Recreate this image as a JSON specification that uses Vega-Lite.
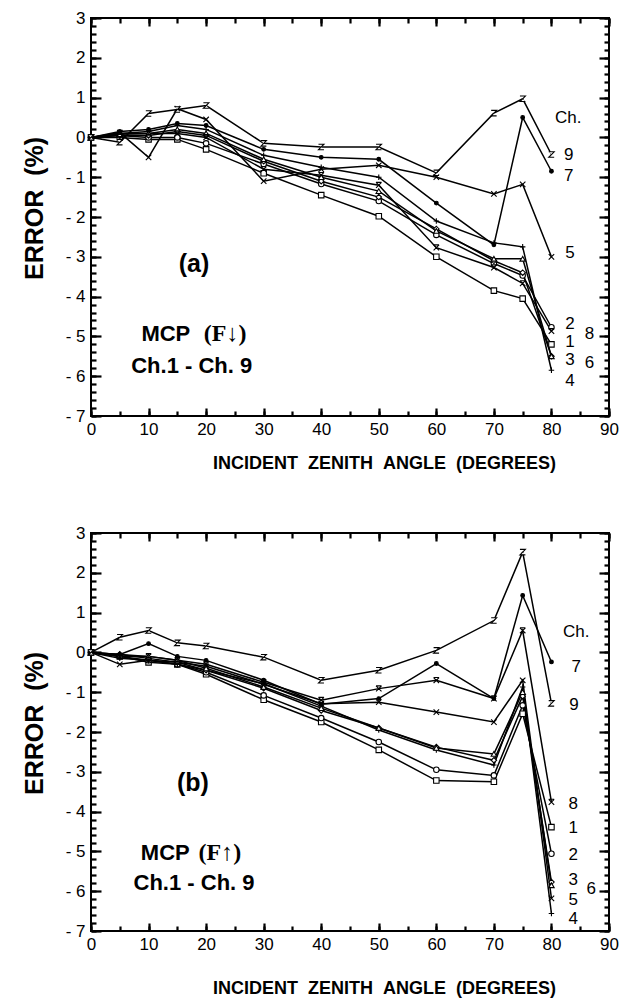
{
"$schema": "https://vega.github.io/schema/vega-lite/v6.json",
"padding": {"left": 21, "top": 8, "right": 5, "bottom": 2},
"spacing": 117,
"bounds": "flush",
"background": "white",
"config": {
 "view": {"stroke": "black", "strokeWidth": 2},
 "font": "Liberation Sans",
 "axis": {"domain": false, "grid": false, "ticks": true, "tickColor": "black", "tickWidth": 2.2, "tickOpacity": 1, "labelColor": "black", "titleColor": "black", "labelFont": "Liberation Sans", "labelFontSize": 17, "titleFont": "Liberation Sans", "titleFontWeight": "bold", "labelFlush": false, "labelOverlap": false, "labelBound": false, "zindex": 1}
},
"datasets": {
 "a": [
  {"ch":"1","x":0,"y":0},{"ch":"1","x":5,"y":0},{"ch":"1","x":10,"y":-0.05},{"ch":"1","x":15,"y":-0.05},{"ch":"1","x":20,"y":-0.3},{"ch":"1","x":30,"y":-0.9},{"ch":"1","x":40,"y":-1.45},{"ch":"1","x":50,"y":-1.98},{"ch":"1","x":60,"y":-3},{"ch":"1","x":70,"y":-3.85},{"ch":"1","x":75,"y":-4.05},{"ch":"1","x":80,"y":-5.2},
  {"ch":"2","x":0,"y":0},{"ch":"2","x":5,"y":0.05},{"ch":"2","x":10,"y":0},{"ch":"2","x":15,"y":0},{"ch":"2","x":20,"y":-0.15},{"ch":"2","x":30,"y":-0.67},{"ch":"2","x":40,"y":-1.17},{"ch":"2","x":50,"y":-1.6},{"ch":"2","x":60,"y":-2.45},{"ch":"2","x":70,"y":-3.17},{"ch":"2","x":75,"y":-3.47},{"ch":"2","x":80,"y":-4.77},
  {"ch":"3","x":0,"y":0},{"ch":"3","x":5,"y":0.05},{"ch":"3","x":10,"y":0.05},{"ch":"3","x":15,"y":0.15},{"ch":"3","x":20,"y":0.05},{"ch":"3","x":30,"y":-0.6},{"ch":"3","x":40,"y":-1.1},{"ch":"3","x":50,"y":-1.5},{"ch":"3","x":60,"y":-2.3},{"ch":"3","x":70,"y":-3.1},{"ch":"3","x":75,"y":-3.4},{"ch":"3","x":80,"y":-5.5},
  {"ch":"4","x":0,"y":0},{"ch":"4","x":5,"y":0.1},{"ch":"4","x":10,"y":0.15},{"ch":"4","x":15,"y":0.3},{"ch":"4","x":20,"y":0.2},{"ch":"4","x":30,"y":-0.45},{"ch":"4","x":40,"y":-0.75},{"ch":"4","x":50,"y":-1},{"ch":"4","x":60,"y":-2.1},{"ch":"4","x":70,"y":-2.65},{"ch":"4","x":75,"y":-2.75},{"ch":"4","x":80,"y":-5.85},
  {"ch":"5","x":0,"y":0},{"ch":"5","x":5,"y":0.12},{"ch":"5","x":10,"y":-0.5},{"ch":"5","x":15,"y":0.72},{"ch":"5","x":20,"y":0.45},{"ch":"5","x":30,"y":-1.1},{"ch":"5","x":40,"y":-0.8},{"ch":"5","x":50,"y":-0.7},{"ch":"5","x":60,"y":-1},{"ch":"5","x":70,"y":-1.42},{"ch":"5","x":75,"y":-1.18},{"ch":"5","x":80,"y":-3},
  {"ch":"6","x":0,"y":0},{"ch":"6","x":5,"y":0.08},{"ch":"6","x":10,"y":0.1},{"ch":"6","x":15,"y":0.2},{"ch":"6","x":20,"y":0.1},{"ch":"6","x":30,"y":-0.55},{"ch":"6","x":40,"y":-1},{"ch":"6","x":50,"y":-1.35},{"ch":"6","x":60,"y":-2.35},{"ch":"6","x":70,"y":-3.05},{"ch":"6","x":75,"y":-3.05},{"ch":"6","x":80,"y":-5.5},
  {"ch":"7","x":0,"y":0},{"ch":"7","x":5,"y":0.15},{"ch":"7","x":10,"y":0.2},{"ch":"7","x":15,"y":0.35},{"ch":"7","x":20,"y":0.3},{"ch":"7","x":30,"y":-0.3},{"ch":"7","x":40,"y":-0.5},{"ch":"7","x":50,"y":-0.55},{"ch":"7","x":60,"y":-1.65},{"ch":"7","x":70,"y":-2.7},{"ch":"7","x":75,"y":0.5},{"ch":"7","x":80,"y":-0.85},
  {"ch":"8","x":0,"y":0},{"ch":"8","x":5,"y":0.1},{"ch":"8","x":10,"y":0.1},{"ch":"8","x":15,"y":0.1},{"ch":"8","x":20,"y":0},{"ch":"8","x":30,"y":-0.8},{"ch":"8","x":40,"y":-0.95},{"ch":"8","x":50,"y":-1.2},{"ch":"8","x":60,"y":-2.77},{"ch":"8","x":70,"y":-3.27},{"ch":"8","x":75,"y":-3.67},{"ch":"8","x":80,"y":-4.87},
  {"ch":"9","x":0,"y":0},{"ch":"9","x":5,"y":-0.12},{"ch":"9","x":10,"y":0.6},{"ch":"9","x":15,"y":0.7},{"ch":"9","x":20,"y":0.8},{"ch":"9","x":30,"y":-0.15},{"ch":"9","x":40,"y":-0.24},{"ch":"9","x":50,"y":-0.24},{"ch":"9","x":60,"y":-0.89},{"ch":"9","x":70,"y":0.61},{"ch":"9","x":75,"y":0.97},{"ch":"9","x":80,"y":-0.43}
 ],
 "b": [
  {"ch":"1","x":0,"y":0},{"ch":"1","x":5,"y":-0.1},{"ch":"1","x":10,"y":-0.25},{"ch":"1","x":15,"y":-0.3},{"ch":"1","x":20,"y":-0.55},{"ch":"1","x":30,"y":-1.19},{"ch":"1","x":40,"y":-1.75},{"ch":"1","x":50,"y":-2.45},{"ch":"1","x":60,"y":-3.22},{"ch":"1","x":70,"y":-3.25},{"ch":"1","x":75,"y":-1.54},{"ch":"1","x":80,"y":-4.39},
  {"ch":"2","x":0,"y":0},{"ch":"2","x":5,"y":-0.1},{"ch":"2","x":10,"y":-0.2},{"ch":"2","x":15,"y":-0.3},{"ch":"2","x":20,"y":-0.5},{"ch":"2","x":30,"y":-1.08},{"ch":"2","x":40,"y":-1.65},{"ch":"2","x":50,"y":-2.25},{"ch":"2","x":60,"y":-2.95},{"ch":"2","x":70,"y":-3.09},{"ch":"2","x":75,"y":-1.33},{"ch":"2","x":80,"y":-5.06},
  {"ch":"3","x":0,"y":0},{"ch":"3","x":5,"y":-0.05},{"ch":"3","x":10,"y":-0.15},{"ch":"3","x":15,"y":-0.25},{"ch":"3","x":20,"y":-0.45},{"ch":"3","x":30,"y":-0.9},{"ch":"3","x":40,"y":-1.46},{"ch":"3","x":50,"y":-1.9},{"ch":"3","x":60,"y":-2.38},{"ch":"3","x":70,"y":-2.71},{"ch":"3","x":75,"y":-1.1},{"ch":"3","x":80,"y":-5.77},
  {"ch":"4","x":0,"y":0},{"ch":"4","x":5,"y":-0.15},{"ch":"4","x":10,"y":-0.2},{"ch":"4","x":15,"y":-0.3},{"ch":"4","x":20,"y":-0.45},{"ch":"4","x":30,"y":-0.79},{"ch":"4","x":40,"y":-1.35},{"ch":"4","x":50,"y":-1.95},{"ch":"4","x":60,"y":-2.45},{"ch":"4","x":70,"y":-2.83},{"ch":"4","x":75,"y":-0.87},{"ch":"4","x":80,"y":-6.56},
  {"ch":"5","x":0,"y":0},{"ch":"5","x":5,"y":-0.3},{"ch":"5","x":10,"y":-0.2},{"ch":"5","x":15,"y":-0.25},{"ch":"5","x":20,"y":-0.35},{"ch":"5","x":30,"y":-0.8},{"ch":"5","x":40,"y":-1.29},{"ch":"5","x":50,"y":-1.25},{"ch":"5","x":60,"y":-1.5},{"ch":"5","x":70,"y":-1.75},{"ch":"5","x":75,"y":-0.7},{"ch":"5","x":80,"y":-6.18},
  {"ch":"6","x":0,"y":0},{"ch":"6","x":5,"y":-0.05},{"ch":"6","x":10,"y":-0.1},{"ch":"6","x":15,"y":-0.2},{"ch":"6","x":20,"y":-0.4},{"ch":"6","x":30,"y":-0.87},{"ch":"6","x":40,"y":-1.4},{"ch":"6","x":50,"y":-1.9},{"ch":"6","x":60,"y":-2.4},{"ch":"6","x":70,"y":-2.55},{"ch":"6","x":75,"y":-1},{"ch":"6","x":80,"y":-5.85},
  {"ch":"7","x":0,"y":0},{"ch":"7","x":5,"y":-0.05},{"ch":"7","x":10,"y":0.22},{"ch":"7","x":15,"y":-0.1},{"ch":"7","x":20,"y":-0.2},{"ch":"7","x":30,"y":-0.7},{"ch":"7","x":40,"y":-1.3},{"ch":"7","x":50,"y":-1.16},{"ch":"7","x":60,"y":-0.28},{"ch":"7","x":70,"y":-1.16},{"ch":"7","x":75,"y":1.43},{"ch":"7","x":80,"y":-0.24},
  {"ch":"8","x":0,"y":0},{"ch":"8","x":5,"y":-0.1},{"ch":"8","x":10,"y":-0.1},{"ch":"8","x":15,"y":-0.2},{"ch":"8","x":20,"y":-0.3},{"ch":"8","x":30,"y":-0.75},{"ch":"8","x":40,"y":-1.2},{"ch":"8","x":50,"y":-0.91},{"ch":"8","x":60,"y":-0.7},{"ch":"8","x":70,"y":-1.16},{"ch":"8","x":75,"y":0.55},{"ch":"8","x":80,"y":-3.76},
  {"ch":"9","x":0,"y":0},{"ch":"9","x":5,"y":0.38},{"ch":"9","x":10,"y":0.55},{"ch":"9","x":15,"y":0.24},{"ch":"9","x":20,"y":0.16},{"ch":"9","x":30,"y":-0.12},{"ch":"9","x":40,"y":-0.7},{"ch":"9","x":50,"y":-0.45},{"ch":"9","x":60,"y":0.05},{"ch":"9","x":70,"y":0.8},{"ch":"9","x":75,"y":2.52},{"ch":"9","x":80,"y":-1.28}
 ],
 "la": [
  {"x":82.9,"y":0.48,"t":"Ch."},{"x":83,"y":-0.43,"t":"9"},{"x":83,"y":-0.98,"t":"7"},{"x":83.2,"y":-2.91,"t":"5"},{"x":83.2,"y":-4.7,"t":"2"},{"x":86.6,"y":-4.95,"t":"8"},{"x":83.2,"y":-5.14,"t":"1"},{"x":83.2,"y":-5.6,"t":"3"},{"x":86.6,"y":-5.67,"t":"6"},{"x":83.2,"y":-6.13,"t":"4"}
 ],
 "lb": [
  {"x":84.3,"y":0.51,"t":"Ch."},{"x":84.3,"y":-0.37,"t":"7"},{"x":83.9,"y":-1.31,"t":"9"},{"x":83.8,"y":-3.82,"t":"8"},{"x":83.8,"y":-4.41,"t":"1"},{"x":83.8,"y":-5.08,"t":"2"},{"x":83.8,"y":-5.73,"t":"3"},{"x":86.9,"y":-5.94,"t":"6"},{"x":83.8,"y":-6.23,"t":"5"},{"x":83.8,"y":-6.69,"t":"4"}
 ],
 "pa": [{"x":17.9,"y":-3.19,"t":"(a)"}],
 "ma": [{"x":13,"y":-4.95,"t":"MCP"},{"x":17.5,"y":-5.75,"t":"Ch.1 - Ch. 9"}],
 "sa": [{"x":23.3,"y":-4.95,"t":"(F↓)"}],
 "pb": [{"x":17.7,"y":-3.29,"t":"(b)"}],
 "mb": [{"x":12.9,"y":-5.03,"t":"MCP"},{"x":17.9,"y":-5.8,"t":"Ch.1 - Ch. 9"}],
 "sb": [{"x":22.4,"y":-5.03,"t":"(F↑)"}]
},
"vconcat": [
 {
  "width": 518, "height": 398,
  "layer": [
   {"mark": {"type": "rule", "stroke": "black", "strokeWidth": 1.4},
    "encoding": {"y": {"datum": 0, "type": "quantitative", "scale": {"domain": [-7, 3], "nice": false, "zero": false}, "axis": null}}},
   {"data": {"name": "a"}, "mark": {"type": "line", "stroke": "black", "strokeWidth": 1.5},
    "encoding": {
     "x": {"field": "x", "type": "quantitative", "scale": {"domain": [0, 90], "nice": false, "zero": false},
      "axis": {"orient": "bottom", "offset": -8, "values": [0,10,20,30,40,50,60,70,80,90], "tickSize": 8, "labelPadding": 5, "title": "INCIDENT\u00a0\u00a0ZENITH\u00a0\u00a0ANGLE\u00a0\u00a0(DEGREES)", "titleFontSize": 18, "titleX": 293, "titleY": 55, "titleBaseline": "middle"}},
     "y": {"field": "y", "type": "quantitative",
      "axis": {"orient": "left", "offset": -10, "values": [-7,-6,-5,-4,-3,-2,-1,0,1,2,3], "tickSize": 10, "labelPadding": 6, "labelExpr": "datum.value < 0 ? '- ' + abs(datum.value) : datum.label", "title": "ERROR\u00a0\u00a0(%)", "titleFontSize": 25, "titleX": -67, "titleY": 190, "titleBaseline": "middle"}},
     "detail": {"field": "ch", "type": "nominal"}}},
   {"data": {"name": "a"}, "mark": {"type": "point", "stroke": "black", "strokeWidth": 1.1, "opacity": 1},
    "encoding": {
     "x": {"field": "x", "type": "quantitative", "axis": {"orient": "top", "offset": -8, "values": [0,10,20,30,40,50,60,70,80,90], "tickSize": 8, "labels": false, "title": null}},
     "y": {"field": "y", "type": "quantitative", "axis": {"orient": "right", "offset": -10, "values": [-7,-6,-5,-4,-3,-2,-1,0,1,2,3], "tickSize": 10, "labels": false, "title": null}},
     "shape": {"field": "ch", "type": "nominal", "legend": null, "scale": {"domain": ["1","2","3","4","5","6","7","8","9"], "range": ["square", "circle", "diamond", "M-1,0L1,0M0,-1L0,1", "M-1,-1L1,1M-1,1L1,-1", "triangle-up", "circle", "M-1,-1L1,1M-1,1L1,-1M-1,-1L1,-1", "M-1,-1L1,-1L-1,1L1,1"]}},
     "fill": {"condition": {"test": "datum.ch == '7'", "value": "black"}, "value": "white"},
     "size": {"condition": {"test": "datum.ch == '7'", "value": 14}, "value": 30}}},
   {"data": {"name": "la"}, "mark": {"type": "text", "font": "Liberation Sans", "fontSize": 17, "align": "center", "baseline": "middle", "color": "black"},
    "encoding": {
     "x": {"field": "x", "type": "quantitative", "axis": {"orient": "bottom", "offset": -5, "values": [0,5,10,15,20,25,30,35,40,45,50,55,60,65,70,75,80,85,90], "tickSize": 5, "labels": false, "title": null}},
     "y": {"field": "y", "type": "quantitative", "axis": {"orient": "left", "offset": -5, "values": [-7,-6.8,-6.6,-6.4,-6.2,-6,-5.8,-5.6,-5.4,-5.2,-5,-4.8,-4.6,-4.4,-4.2,-4,-3.8,-3.6,-3.4,-3.2,-3,-2.8,-2.6,-2.4,-2.2,-2,-1.8,-1.6,-1.4,-1.2,-1,-0.8,-0.6,-0.4,-0.2,0,0.2,0.4,0.6,0.8,1,1.2,1.4,1.6,1.8,2,2.2,2.4,2.6,2.8,3], "tickSize": 5, "labels": false, "title": null}},
     "text": {"field": "t"}}},
   {"data": {"name": "ma"}, "mark": {"type": "text", "font": "Liberation Sans", "fontWeight": "bold", "fontSize": 22, "align": "center", "baseline": "middle", "color": "black"},
    "encoding": {
     "x": {"field": "x", "type": "quantitative", "axis": {"orient": "top", "offset": -5, "values": [0,5,10,15,20,25,30,35,40,45,50,55,60,65,70,75,80,85,90], "tickSize": 5, "labels": false, "title": null}},
     "y": {"field": "y", "type": "quantitative", "axis": {"orient": "right", "offset": -5, "values": [-7,-6.8,-6.6,-6.4,-6.2,-6,-5.8,-5.6,-5.4,-5.2,-5,-4.8,-4.6,-4.4,-4.2,-4,-3.8,-3.6,-3.4,-3.2,-3,-2.8,-2.6,-2.4,-2.2,-2,-1.8,-1.6,-1.4,-1.2,-1,-0.8,-0.6,-0.4,-0.2,0,0.2,0.4,0.6,0.8,1,1.2,1.4,1.6,1.8,2,2.2,2.4,2.6,2.8,3], "tickSize": 5, "labels": false, "title": null}},
     "text": {"field": "t"}}},
   {"data": {"name": "pa"}, "mark": {"type": "text", "font": "Liberation Sans", "fontWeight": "bold", "fontSize": 25, "align": "center", "baseline": "middle", "color": "black"},
    "encoding": {
     "x": {"field": "x", "type": "quantitative", "axis": null},
     "y": {"field": "y", "type": "quantitative", "axis": null},
     "text": {"field": "t"}}},
   {"data": {"name": "sa"}, "mark": {"type": "text", "font": "Liberation Serif", "fontWeight": "bold", "fontSize": 24, "align": "center", "baseline": "middle", "color": "black"},
    "encoding": {
     "x": {"field": "x", "type": "quantitative", "axis": null},
     "y": {"field": "y", "type": "quantitative", "axis": null},
     "text": {"field": "t"}}}
  ],
  "resolve": {"axis": {"x": "independent", "y": "independent"}}
 },
 {
  "width": 518, "height": 398,
  "layer": [
   {"mark": {"type": "rule", "stroke": "black", "strokeWidth": 1.4},
    "encoding": {"y": {"datum": 0, "type": "quantitative", "scale": {"domain": [-7, 3], "nice": false, "zero": false}, "axis": null}}},
   {"data": {"name": "b"}, "mark": {"type": "line", "stroke": "black", "strokeWidth": 1.5},
    "encoding": {
     "x": {"field": "x", "type": "quantitative", "scale": {"domain": [0, 90], "nice": false, "zero": false},
      "axis": {"orient": "bottom", "offset": -8, "values": [0,10,20,30,40,50,60,70,80,90], "tickSize": 8, "labelPadding": 5, "title": "INCIDENT\u00a0\u00a0ZENITH\u00a0\u00a0ANGLE\u00a0\u00a0(DEGREES)", "titleFontSize": 18, "titleX": 293, "titleY": 65, "titleBaseline": "middle"}},
     "y": {"field": "y", "type": "quantitative",
      "axis": {"orient": "left", "offset": -10, "values": [-7,-6,-5,-4,-3,-2,-1,0,1,2,3], "tickSize": 10, "labelPadding": 6, "labelExpr": "datum.value < 0 ? '- ' + abs(datum.value) : datum.label", "title": "ERROR\u00a0\u00a0(%)", "titleFontSize": 25, "titleX": -67, "titleY": 190, "titleBaseline": "middle"}},
     "detail": {"field": "ch", "type": "nominal"}}},
   {"data": {"name": "b"}, "mark": {"type": "point", "stroke": "black", "strokeWidth": 1.1, "opacity": 1},
    "encoding": {
     "x": {"field": "x", "type": "quantitative", "axis": {"orient": "top", "offset": -8, "values": [0,10,20,30,40,50,60,70,80,90], "tickSize": 8, "labels": false, "title": null}},
     "y": {"field": "y", "type": "quantitative", "axis": {"orient": "right", "offset": -10, "values": [-7,-6,-5,-4,-3,-2,-1,0,1,2,3], "tickSize": 10, "labels": false, "title": null}},
     "shape": {"field": "ch", "type": "nominal", "legend": null, "scale": {"domain": ["1","2","3","4","5","6","7","8","9"], "range": ["square", "circle", "diamond", "M-1,0L1,0M0,-1L0,1", "M-1,-1L1,1M-1,1L1,-1", "triangle-up", "circle", "M-1,-1L1,1M-1,1L1,-1M-1,-1L1,-1", "M-1,-1L1,-1L-1,1L1,1"]}},
     "fill": {"condition": {"test": "datum.ch == '7'", "value": "black"}, "value": "white"},
     "size": {"condition": {"test": "datum.ch == '7'", "value": 14}, "value": 30}}},
   {"data": {"name": "lb"}, "mark": {"type": "text", "font": "Liberation Sans", "fontSize": 17, "align": "center", "baseline": "middle", "color": "black"},
    "encoding": {
     "x": {"field": "x", "type": "quantitative", "axis": {"orient": "bottom", "offset": -5, "values": [0,5,10,15,20,25,30,35,40,45,50,55,60,65,70,75,80,85,90], "tickSize": 5, "labels": false, "title": null}},
     "y": {"field": "y", "type": "quantitative", "axis": {"orient": "left", "offset": -5, "values": [-7,-6.8,-6.6,-6.4,-6.2,-6,-5.8,-5.6,-5.4,-5.2,-5,-4.8,-4.6,-4.4,-4.2,-4,-3.8,-3.6,-3.4,-3.2,-3,-2.8,-2.6,-2.4,-2.2,-2,-1.8,-1.6,-1.4,-1.2,-1,-0.8,-0.6,-0.4,-0.2,0,0.2,0.4,0.6,0.8,1,1.2,1.4,1.6,1.8,2,2.2,2.4,2.6,2.8,3], "tickSize": 5, "labels": false, "title": null}},
     "text": {"field": "t"}}},
   {"data": {"name": "mb"}, "mark": {"type": "text", "font": "Liberation Sans", "fontWeight": "bold", "fontSize": 22, "align": "center", "baseline": "middle", "color": "black"},
    "encoding": {
     "x": {"field": "x", "type": "quantitative", "axis": {"orient": "top", "offset": -5, "values": [0,5,10,15,20,25,30,35,40,45,50,55,60,65,70,75,80,85,90], "tickSize": 5, "labels": false, "title": null}},
     "y": {"field": "y", "type": "quantitative", "axis": {"orient": "right", "offset": -5, "values": [-7,-6.8,-6.6,-6.4,-6.2,-6,-5.8,-5.6,-5.4,-5.2,-5,-4.8,-4.6,-4.4,-4.2,-4,-3.8,-3.6,-3.4,-3.2,-3,-2.8,-2.6,-2.4,-2.2,-2,-1.8,-1.6,-1.4,-1.2,-1,-0.8,-0.6,-0.4,-0.2,0,0.2,0.4,0.6,0.8,1,1.2,1.4,1.6,1.8,2,2.2,2.4,2.6,2.8,3], "tickSize": 5, "labels": false, "title": null}},
     "text": {"field": "t"}}},
   {"data": {"name": "pb"}, "mark": {"type": "text", "font": "Liberation Sans", "fontWeight": "bold", "fontSize": 25, "align": "center", "baseline": "middle", "color": "black"},
    "encoding": {
     "x": {"field": "x", "type": "quantitative", "axis": null},
     "y": {"field": "y", "type": "quantitative", "axis": null},
     "text": {"field": "t"}}},
   {"data": {"name": "sb"}, "mark": {"type": "text", "font": "Liberation Serif", "fontWeight": "bold", "fontSize": 24, "align": "center", "baseline": "middle", "color": "black"},
    "encoding": {
     "x": {"field": "x", "type": "quantitative", "axis": null},
     "y": {"field": "y", "type": "quantitative", "axis": null},
     "text": {"field": "t"}}}
  ],
  "resolve": {"axis": {"x": "independent", "y": "independent"}}
 }
]
}
